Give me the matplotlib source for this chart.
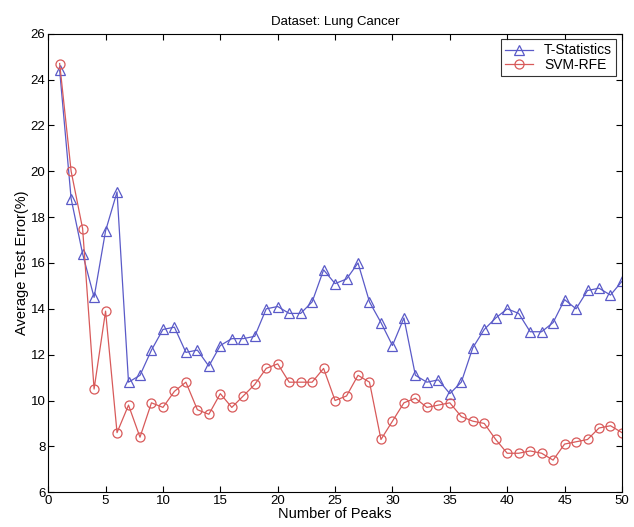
import numpy as np
import matplotlib.pyplot as plt

plt.rcParams['font.family'] = ['Liberation Sans', 'DejaVu Sans']

# 数据：峰的个数 与 平均测试误差
peaks = list(range(1, 51))
t_stat = [24.4, 18.8, 16.4, 14.5, 17.4, 19.1, 10.8, 11.1, 12.2, 13.1,
          13.2, 12.1, 12.2, 11.5, 12.4, 12.7, 12.7, 12.8, 14.0, 14.1,
          13.8, 13.8, 14.3, 15.7, 15.1, 15.3, 16.0, 14.3, 13.4, 12.4,
          13.6, 11.1, 10.8, 10.9, 10.3, 10.8, 12.3, 13.1, 13.6, 14.0,
          13.8, 13.0, 13.0, 13.4, 14.4, 14.0, 14.8, 14.9, 14.6, 15.2]
svm_rfe = [24.7, 20.0, 17.5, 10.5, 13.9, 8.6, 9.8, 8.4, 9.9, 9.7,
           10.4, 10.8, 9.6, 9.4, 10.3, 9.7, 10.2, 10.7, 11.4, 11.6,
           10.8, 10.8, 10.8, 11.4, 10.0, 10.2, 11.1, 10.8, 8.3, 9.1,
           9.9, 10.1, 9.7, 9.8, 9.9, 9.3, 9.1, 9.0, 8.3, 7.7,
           7.7, 7.8, 7.7, 7.4, 8.1, 8.2, 8.3, 8.8, 8.9, 8.6]

fig = plt.figure(figsize=(6.34, 5.27), dpi=100)
ax = fig.add_axes([0.076, 0.066, 0.905, 0.87])

ax.plot(peaks, t_stat, color='#5a5ac8', lw=0.9, marker='^', ms=6.5,
        mfc='none', mec='#5a5ac8', mew=0.9, label='T-Statistics')
ax.plot(peaks, svm_rfe, color='#d85a5a', lw=0.9, marker='o', ms=6.5,
        mfc='none', mec='#d85a5a', mew=0.9, label='SVM-RFE')

ax.set_xlim(0, 50)
ax.set_ylim(6, 26)
ax.set_xticks(range(0, 51, 5))
ax.set_yticks(range(6, 27, 2))
ax.tick_params(direction='in', top=True, right=True, labelsize=9.5, length=4, pad=2)
for s in ax.spines.values():
    s.set_linewidth(0.8)

ax.set_title('Dataset: Lung Cancer', fontsize=9.5, pad=6)
ax.set_xlabel('Number of Peaks', fontsize=10.5, labelpad=0)
ax.set_ylabel('Average Test Error(%)', fontsize=10.5, labelpad=1)

leg = ax.legend(loc='upper right', fontsize=10, fancybox=False, edgecolor='black',
                handlelength=2.0, borderpad=0.3, labelspacing=0.05, borderaxespad=0.4)
leg.get_frame().set_linewidth(0.8)

fig.savefig('out.png', dpi=100)
